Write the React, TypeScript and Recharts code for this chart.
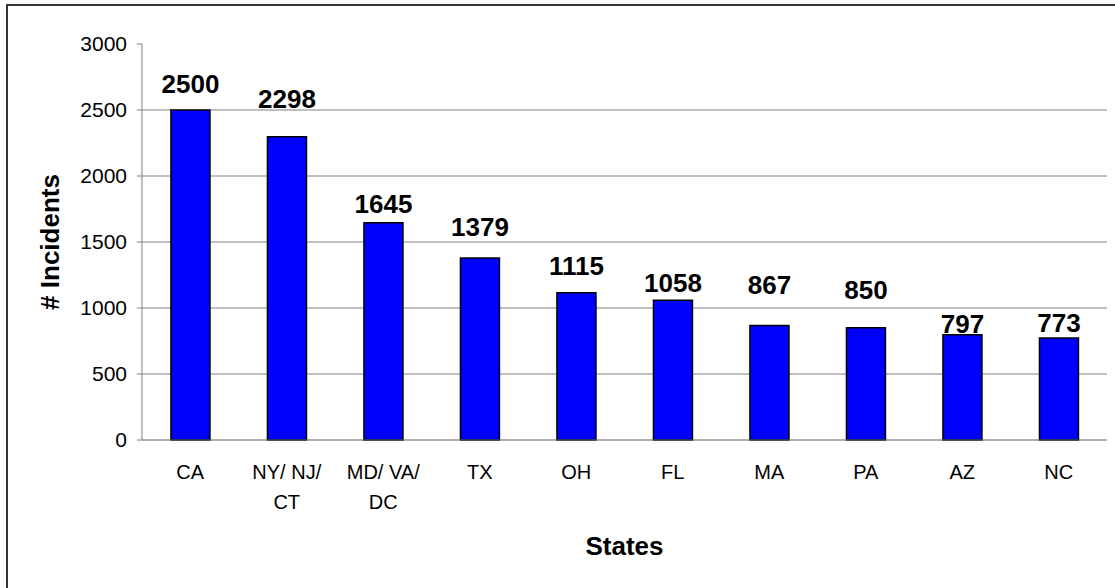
import { Bar, BarChart, CartesianGrid, Label, LabelList, XAxis, YAxis } from "recharts";

const states = ["CA", "NY/ NJ/\nCT", "MD/ VA/\nDC", "TX", "OH", "FL", "MA", "PA", "AZ", "NC"];
const incidents = [2500, 2298, 1645, 1379, 1115, 1058, 867, 850, 797, 773];
const yTicks = [0, 500, 1000, 1500, 2000, 2500, 3000];
const gridValues = [500, 1000, 1500, 2000, 2500];
const bandEdges = [0, 1, 2, 3, 4, 5, 6, 7, 8, 9, 10];

// the value labels were hand placed in the original, so each sits a little differently above its bar
const labelLift = [17, 29, 10, 22, 18, 8, 32, 29, 2, 6];

const data = states.map((state, i) => ({ state, incidents: incidents[i] }));

const font = "'Liberation Sans', Arial, sans-serif";

function StateTick({ x, y, payload }: any) {
  const lines = String(payload.value).split("\n");
  return (
    <text x={x} y={y} textAnchor="middle" fontFamily={font} fontSize={20} fill="#000">
      {lines.map((line, i) => (
        <tspan key={i} x={x} dy={i === 0 ? 38 : 30}>
          {line}
        </tspan>
      ))}
    </text>
  );
}

function ValueLabel({ x, y, width, value, index }: any) {
  return (
    <text
      x={x + width / 2}
      y={y - labelLift[index]}
      textAnchor="middle"
      fontFamily={font}
      fontSize={26}
      fontWeight="bold"
      fill="#000"
    >
      {value}
    </text>
  );
}

export default function App() {
  return (
    <div style={{ position: "absolute", left: 0, top: 0, width: 1115, height: 588, overflow: "hidden", background: "#fff" }}>
      <div
        style={{
          position: "absolute",
          left: 6,
          top: 4,
          width: 1120,
          height: 600,
          border: "2px solid #333",
        }}
      />
      <div style={{ position: "absolute", left: 0, top: 0 }}>
        <BarChart
          width={1115}
          height={588}
          data={data}
          margin={{ top: 44, right: 8, left: 14, bottom: 27 }}
          barCategoryGap="30%"
        >
          <CartesianGrid vertical={false} horizontalValues={gridValues} stroke="#808080" strokeWidth={1} xAxisId="cat" />
          <XAxis
            xAxisId={0}
            type="number"
            domain={[0, 10]}
            ticks={bandEdges}
            tick={false}
            tickSize={6}
            height={1}
            stroke="#606060"
          />
          <XAxis
            xAxisId="cat"
            dataKey="state"
            interval={0}
            axisLine={false}
            tickLine={false}
            tickSize={0}
            tickMargin={0}
            height={120}
            tick={<StateTick />}
          >
            <Label
              content={({ viewBox }: any) => (
                <text
                  x={viewBox.x + viewBox.width / 2}
                  y={viewBox.y + viewBox.height - 6}
                  textAnchor="middle"
                  fontFamily={font}
                  fontSize={26}
                  fontWeight="bold"
                  fill="#000"
                >
                  States
                </text>
              )}
            />
          </XAxis>
          <YAxis
            width={128}
            domain={[0, 3000]}
            ticks={yTicks}
            interval={0}
            tickSize={5}
            tickMargin={10}
            stroke="#808080"
            tick={{ fontFamily: font, fontSize: 21, fill: "#000" }}
          >
            <Label
              content={({ viewBox }: any) => {
                const cx = viewBox.x + 45;
                const cy = viewBox.y + viewBox.height / 2;
                return (
                  <text
                    x={cx}
                    y={cy}
                    transform={`rotate(-90, ${cx}, ${cy})`}
                    textAnchor="middle"
                    fontFamily={font}
                    fontSize={26}
                    fontWeight="bold"
                    fill="#000"
                  >
                    # Incidents
                  </text>
                );
              }}
            />
          </YAxis>
          <Bar
            xAxisId="cat"
            dataKey="incidents"
            fill="#0000FF"
            stroke="#000"
            strokeWidth={1.5}
            isAnimationActive={false}
          >
            <LabelList dataKey="incidents" content={<ValueLabel />} />
          </Bar>
        </BarChart>
      </div>
    </div>
  );
}
